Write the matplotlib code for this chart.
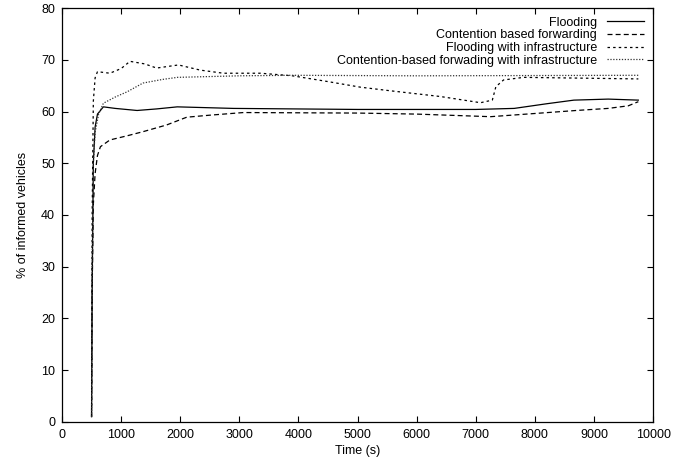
import matplotlib
matplotlib.use("Agg")
import matplotlib.pyplot as plt

plt.rcParams['font.family'] = ['Liberation Sans', 'DejaVu Sans']
plt.rcParams['font.size'] = 9

# values (time in s, % of informed vehicles)
flooding_t = [500, 510, 530, 560, 600, 700, 900, 1270, 1600, 1950, 2900, 5000, 7000, 7650, 8200, 8660, 9240, 9750]
flooding = [1, 25, 50, 57, 59.5, 60.9, 60.6, 60.2, 60.5, 60.9, 60.6, 60.4, 60.4, 60.6, 61.5, 62.2, 62.4, 62.2]

contention_t = [500, 510, 530, 560, 600, 650, 810, 1100, 1370, 1770, 2110, 2510, 3070, 5000, 6000, 7250, 8100, 8700, 9240, 9580, 9750]
contention = [1, 25, 42, 48, 51.5, 53.2, 54.5, 55.3, 56.1, 57.4, 58.9, 59.3, 59.8, 59.7, 59.5, 59.0, 59.7, 60.2, 60.6, 61.1, 61.9]

flood_infra_t = [500, 510, 530, 560, 600, 810, 1000, 1150, 1400, 1600, 1970, 2340, 2730, 3360, 3900, 4490, 5050, 5560, 6400, 7080, 7280, 7340, 7470, 7810, 9750]
flood_infra = [1, 40, 62, 66.5, 67.7, 67.4, 68.3, 69.7, 69.2, 68.4, 69.0, 68.0, 67.4, 67.4, 66.9, 65.8, 64.7, 64.0, 62.9, 61.7, 62.2, 64.8, 66.1, 66.6, 66.3]

cbf_infra_t = [500, 510, 530, 560, 620, 700, 900, 1100, 1370, 1700, 1950, 3000, 3900, 6000, 9750]
cbf_infra = [1, 30, 50, 56, 59.5, 61.6, 62.8, 63.8, 65.5, 66.2, 66.6, 66.9, 67.0, 66.9, 67.0]

fig = plt.figure(figsize=(6.74, 4.73), dpi=100)
ax = fig.add_axes([0.092, 0.108, 0.877, 0.875])

ax.plot(flooding_t, flooding, color='black', lw=0.9, label='Flooding')
ax.plot(contention_t, contention, color='black', lw=0.9, dashes=(4, 2.5), label='Contention based forwarding')
ax.plot(flood_infra_t, flood_infra, color='black', lw=0.9, dashes=(2, 2.5), label='Flooding with infrastructure')
ax.plot(cbf_infra_t, cbf_infra, color='#333333', lw=0.9, dashes=(1, 1.3), label='Contention-based forwading with infrastructure')

ax.set_xlim(0, 10000)
ax.set_ylim(0, 80)
ax.set_xticks(range(0, 10001, 1000))
ax.set_yticks(range(0, 81, 10))
ax.tick_params(direction='in', top=True, right=True, length=4, width=0.8, pad=5)
for s in ax.spines.values():
    s.set_linewidth(0.9)

ax.set_xlabel('Time (s)', labelpad=3)
ax.set_ylabel('% of informed vehicles', labelpad=9)

ax.legend(loc='upper right', frameon=False, markerfirst=False, handlelength=3.0,
          labelspacing=0.05, borderaxespad=0.3, handletextpad=0.8)

fig.savefig('out.png', dpi=100)
